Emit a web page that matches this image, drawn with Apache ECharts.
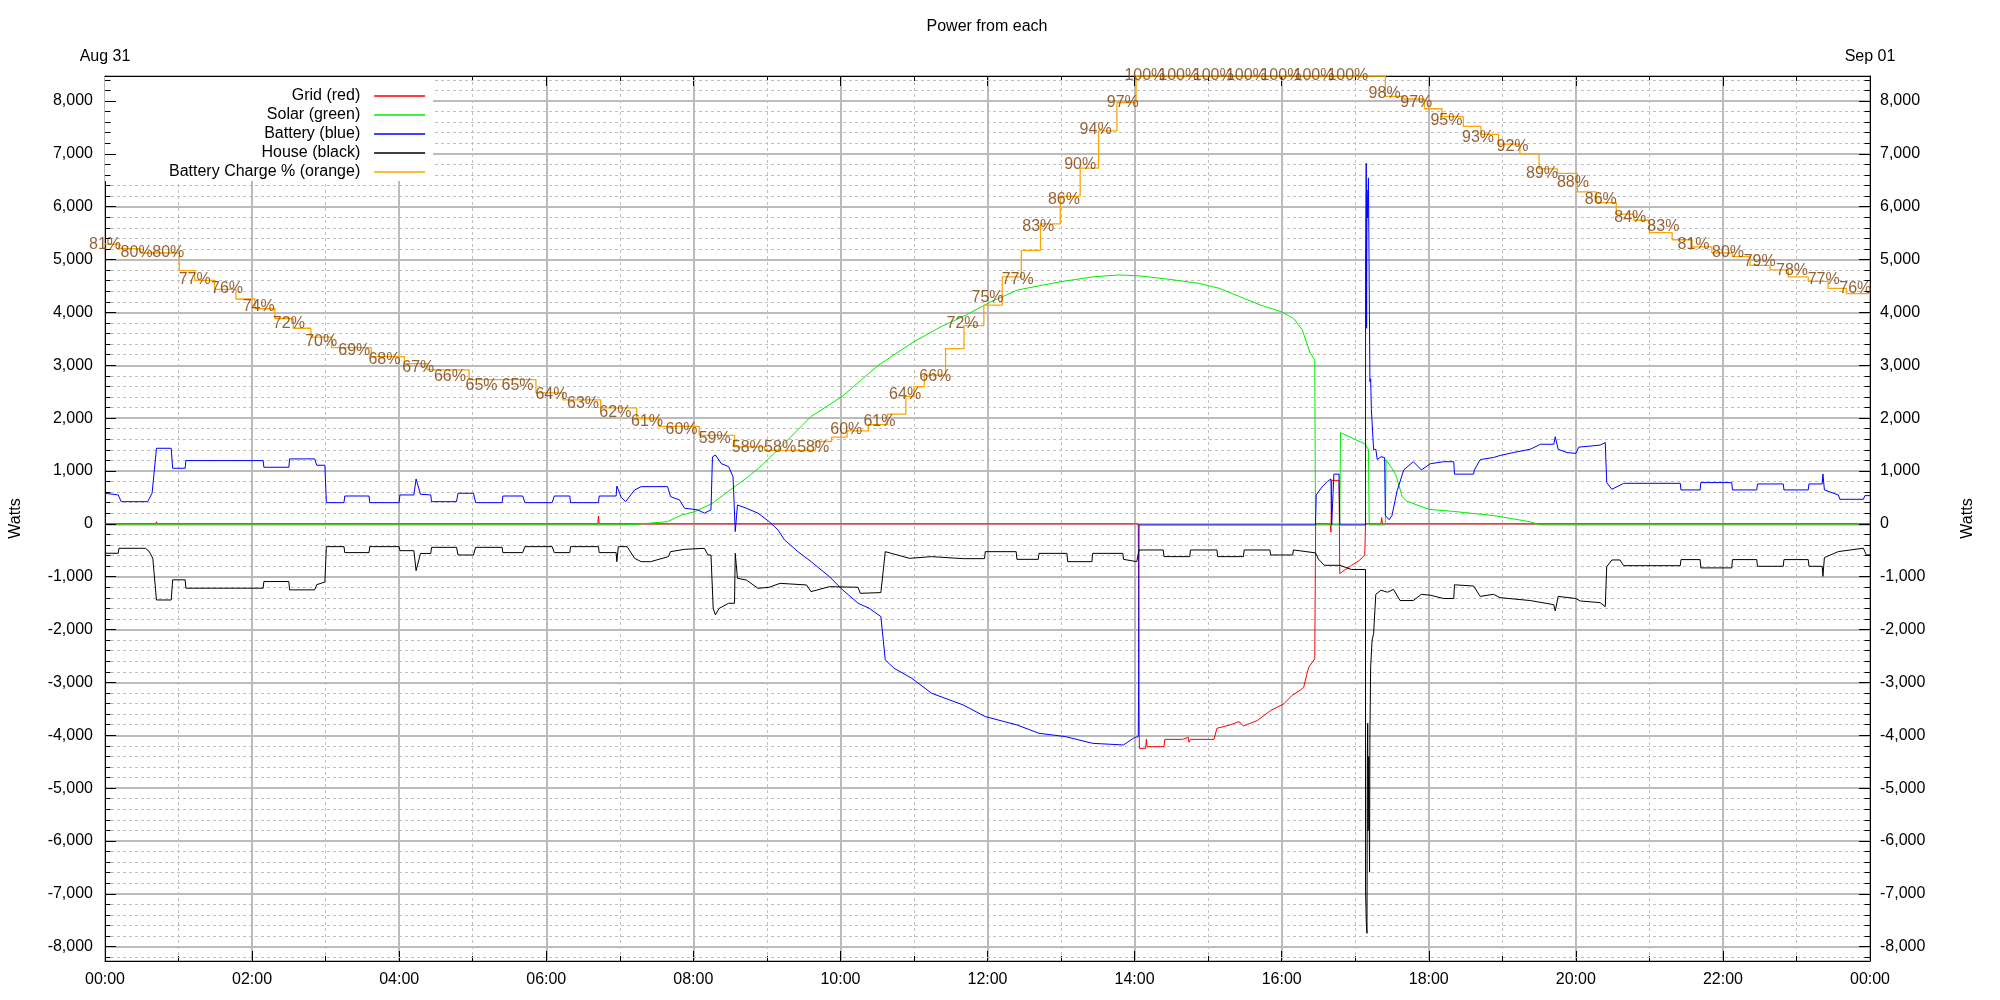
<!DOCTYPE html>
<html><head><meta charset="utf-8">
<script src="https://cdn.jsdelivr.net/npm/echarts@6/dist/echarts.min.js"></script>
<style>html,body{margin:0;padding:0;background:#fff}#chart{width:2000px;height:1000px}</style>
</head><body><div id="chart"></div>
<script>
// ---------- tick / axis labels ----------
const timeLabels = ['00:00','02:00','04:00','06:00','08:00','10:00','12:00','14:00','16:00','18:00','20:00','22:00','00:00'];
const dateLabels = ['Aug 31', 'Sep 01'];
const seriesNames = ['Grid (red)', 'Solar (green)', 'Battery (blue)', 'House (black)', 'Battery Charge % (orange)'];
const titleText = 'Power from each';
const yName = 'Watts';

// ---------- data: [hour of day, watts] ----------
const gridW = [[0,0],[0.69,0],[0.7,40],[0.71,0],[6.7,0],[6.71,150],[6.72,0],[14.05,0],[14.055,-1040],[14.06,-3105],[14.065,-4246],[14.15,-4246],[14.16,-4071],[14.17,-4215],[14.4,-4215],[14.41,-4077],[14.65,-4077],[14.66,-4040],[14.73,-4040],[14.74,-4133],[14.76,-4077],[15.08,-4077],[15.12,-3867],[15.3,-3804],[15.42,-3741],[15.48,-3823],[15.67,-3720],[15.85,-3530],[16.03,-3405],[16.14,-3247],[16.25,-3150],[16.3,-3090],[16.35,-2800],[16.37,-2710],[16.45,-2553],[16.46,-2553],[16.462,0],[16.66,0],[16.67,-157],[16.68,823],[16.78,823],[16.79,-941],[16.85,-880],[16.95,-784],[17.05,-700],[17.13,-588],[17.14,0],[17.35,0],[17.36,118],[17.37,0],[24,0]];

const solarW = [[0,-20],[7.05,-20],[7.3,0],[7.65,42],[7.84,168],[8.02,231],[8.26,389],[8.5,641],[8.75,894],[8.94,1116],[9.24,1526],[9.6,2031],[10.02,2407],[10.52,3006],[11.0,3447],[11.37,3731],[11.71,3952],[12.05,4204],[12.41,4425],[13.0,4583],[13.46,4677],[13.79,4709],[14.08,4690],[14.47,4627],[14.87,4551],[15.15,4457],[15.43,4299],[15.71,4141],[15.99,4015],[16.16,3889],[16.28,3668],[16.39,3227],[16.45,3101],[16.46,-20],[16.79,-20],[16.8,1725],[17.14,1506],[17.18,1400],[17.19,-20],[17.41,-20],[17.42,1216],[17.55,941],[17.64,510],[17.7,431],[18.0,275],[18.34,235],[18.88,157],[19.38,39],[19.52,-20],[24,-20]];

const batteryW = [[0,579],[0.18,547],[0.22,420],[0.58,420],[0.64,579],[0.7,1430],[0.9,1430],[0.92,1052],[1.09,1052],[1.1,1197],[2.15,1197],[2.16,1071],[2.5,1071],[2.51,1229],[2.85,1229],[2.88,1109],[2.99,1109],[3.01,401],[3.25,401],[3.26,527],[3.59,527],[3.6,401],[4.0,401],[4.01,547],[4.2,547],[4.23,850],[4.29,560],[4.43,547],[4.44,420],[4.78,420],[4.8,579],[5.01,579],[5.04,401],[5.4,401],[5.41,527],[5.68,527],[5.71,401],[6.08,401],[6.11,527],[6.32,527],[6.33,401],[6.71,401],[6.72,527],[6.95,527],[6.96,716],[7.02,500],[7.08,420],[7.2,641],[7.29,704],[7.65,704],[7.69,515],[7.81,454],[7.88,296],[8.06,265],[8.15,202],[8.24,265],[8.26,1266],[8.3,1303],[8.38,1141],[8.48,1082],[8.54,893],[8.57,-146],[8.6,357],[8.72,296],[8.88,202],[9.03,44],[9.15,-114],[9.24,-303],[9.42,-524],[9.6,-713],[9.85,-997],[10.03,-1249],[10.24,-1501],[10.39,-1596],[10.55,-1754],[10.61,-2574],[10.73,-2732],[10.97,-2921],[11.24,-3205],[11.67,-3426],[11.97,-3646],[12.4,-3804],[12.7,-3962],[13.06,-4025],[13.43,-4152],[13.85,-4183],[14.0,-4040],[14.05,-4026],[14.055,-3105],[14.06,-20],[16.46,-20],[16.47,549],[16.55,700],[16.62,800],[16.67,850],[16.68,-20],[16.7,-20],[16.71,941],[16.78,941],[16.79,-20],[17.14,-20],[17.141,5000],[17.15,6822],[17.155,3700],[17.16,6318],[17.17,5788],[17.18,6545],[17.19,4615],[17.2,2691],[17.21,2745],[17.22,2161],[17.25,1404],[17.28,1412],[17.3,1216],[17.35,1270],[17.4,1255],[17.41,157],[17.46,78],[17.5,157],[17.57,627],[17.66,1020],[17.79,1176],[17.9,1020],[18.02,1137],[18.2,1176],[18.34,1176],[18.35,941],[18.61,941],[18.62,1020],[18.7,1216],[18.88,1255],[18.97,1294],[19.15,1349],[19.38,1412],[19.52,1506],[19.7,1506],[19.72,1647],[19.76,1412],[19.88,1349],[20.0,1333],[20.04,1451],[20.33,1490],[20.4,1538],[20.42,781],[20.49,654],[20.6,730],[20.65,767],[21.42,767],[21.43,642],[21.69,642],[21.7,781],[22.12,781],[22.13,642],[22.46,642],[22.47,755],[22.82,755],[22.83,642],[23.16,642],[23.17,755],[23.35,755],[23.36,944],[23.38,642],[23.57,547],[23.59,465],[23.91,465],[23.93,534],[24,534]];

const houseW = [[0,-556],[0.18,-556],[0.19,-462],[0.55,-462],[0.6,-520],[0.65,-651],[0.7,-1440],[0.9,-1440],[0.92,-1059],[1.09,-1059],[1.1,-1217],[2.15,-1217],[2.16,-1091],[2.5,-1091],[2.51,-1249],[2.85,-1249],[2.88,-1150],[2.99,-1100],[3.01,-431],[3.25,-431],[3.26,-544],[3.59,-544],[3.6,-431],[4.0,-431],[4.01,-507],[4.2,-507],[4.23,-885],[4.29,-560],[4.43,-560],[4.44,-444],[4.78,-444],[4.8,-589],[5.01,-589],[5.04,-444],[5.4,-444],[5.41,-544],[5.68,-544],[5.71,-431],[6.08,-431],[6.11,-544],[6.32,-544],[6.33,-431],[6.71,-431],[6.72,-544],[6.95,-544],[6.96,-715],[6.98,-431],[7.1,-431],[7.2,-651],[7.29,-715],[7.42,-715],[7.66,-620],[7.69,-526],[7.88,-482],[8.15,-463],[8.2,-589],[8.24,-589],[8.27,-1596],[8.3,-1722],[8.35,-1600],[8.48,-1502],[8.56,-1502],[8.57,-558],[8.6,-1030],[8.72,-1062],[8.88,-1219],[9.03,-1200],[9.18,-1125],[9.54,-1156],[9.6,-1282],[9.85,-1188],[10.24,-1200],[10.27,-1314],[10.55,-1300],[10.61,-526],[10.94,-652],[11.24,-620],[11.67,-658],[11.96,-658],[11.97,-526],[12.39,-526],[12.4,-671],[12.69,-671],[12.7,-558],[13.08,-558],[13.09,-715],[13.42,-715],[13.43,-558],[13.84,-558],[13.85,-671],[14.03,-715],[14.06,-494],[14.39,-494],[14.4,-620],[14.75,-620],[14.76,-494],[15.12,-494],[15.13,-620],[15.48,-620],[15.49,-494],[15.84,-494],[15.85,-589],[16.15,-589],[16.16,-494],[16.25,-510],[16.46,-549],[16.5,-667],[16.58,-784],[16.79,-784],[16.95,-863],[17.14,-863],[17.141,-6925],[17.15,-7526],[17.16,-7746],[17.165,-4500],[17.17,-3773],[17.175,-5805],[17.185,-4400],[17.195,-6590],[17.2,-4000],[17.21,-2702],[17.23,-2197],[17.25,-2078],[17.28,-1333],[17.35,-1255],[17.44,-1294],[17.52,-1239],[17.61,-1451],[17.79,-1451],[17.9,-1333],[18.02,-1349],[18.2,-1412],[18.34,-1412],[18.35,-1153],[18.61,-1176],[18.7,-1372],[18.88,-1333],[18.97,-1396],[19.38,-1451],[19.7,-1529],[19.72,-1647],[19.76,-1372],[20.0,-1412],[20.06,-1459],[20.33,-1490],[20.4,-1566],[20.42,-809],[20.49,-683],[20.6,-683],[20.65,-791],[21.42,-791],[21.43,-676],[21.69,-676],[21.7,-833],[22.12,-833],[22.13,-676],[22.46,-676],[22.47,-803],[22.82,-803],[22.83,-676],[23.16,-676],[23.17,-803],[23.35,-803],[23.36,-993],[23.38,-638],[23.57,-524],[23.91,-461],[23.95,-587],[24,-587]];

// battery state of charge, percent (step line)
const chargePct = [[0,81],[0.19,80.5],[0.48,80],[1.01,78],[1.22,76.9],[1.49,75.9],[1.78,74.8],[2.04,73.7],[2.31,72.6],[2.56,71.5],[2.8,70.5],[3.08,69.3],[3.62,68.3],[4.07,67.5],[4.38,66.8],[4.95,65.7],[5.86,64.2],[6.23,63.4],[6.74,62.5],[7.23,61.3],[7.53,60.4],[8.08,59.4],[8.56,58.1],[8.97,57.7],[9.66,58.7],[9.88,59.2],[10.09,59.9],[10.38,60.6],[10.64,61.8],[10.89,63.8],[11.0,64.9],[11.14,66.2],[11.43,69.2],[11.68,71.8],[11.95,74.1],[12.2,77.3],[12.46,80.3],[12.72,83.3],[12.99,86.4],[13.26,89.6],[13.51,93.8],[13.76,97],[14.02,100],[17.41,97.7],[17.65,97.4],[17.94,96.3],[18.18,95.4],[18.47,94.3],[18.71,93.4],[18.95,92.3],[19.24,91.2],[19.5,89.5],[19.75,89.0],[20.02,86.9],[20.28,85.7],[20.55,84.4],[20.79,83.7],[21.0,82.3],[21.31,81.5],[21.58,80.7],[21.85,80.0],[22.13,79.6],[22.37,78.6],[22.64,78.1],[22.89,77.3],[23.16,76.8],[23.43,76.0],[23.68,75.4],[24,75.4]];

// labelled charge readings
const chargeLabels = [[0,81],[0.43,80],[0.86,80],[1.22,77],[1.66,76],[2.09,74],[2.5,72],[2.94,70],[3.39,69],[3.8,68],[4.26,67],[4.69,66],[5.12,65],[5.61,65],[6.07,64],[6.5,63],[6.94,62],[7.37,61],[7.84,60],[8.29,59],[8.74,58],[9.18,58],[9.63,58],[10.08,60],[10.53,61],[10.88,64],[11.29,66],[11.66,72],[12.0,75],[12.41,77],[12.69,83],[13.04,86],[13.26,90],[13.47,94],[13.84,97],[14.14,100],[14.6,100],[15.07,100],[15.52,100],[15.99,100],[16.44,100],[16.9,100],[17.4,98],[17.83,97],[18.24,95],[18.67,93],[19.14,92],[19.54,89],[19.96,88],[20.34,86],[20.74,84],[21.19,83],[21.6,81],[22.07,80],[22.5,79],[22.94,78],[23.37,77],[23.8,76]];

// ---------- styling ----------
const FONT = "'Liberation Sans', Arial, Helvetica, sans-serif";
const MAJOR = '#bbbbbb';
const MINOR = '#c0c0c0';
const Y_MIN = -8270, Y_MAX = 8473;
const MAJOR_STEP = 1000, MINOR_STEP = 200;
const minorY = [], majorY = [];
for (let v = Math.ceil(Y_MIN / MINOR_STEP) * MINOR_STEP; v <= Y_MAX; v += MINOR_STEP) {
  if (v % MAJOR_STEP !== 0) minorY.push(v); else majorY.push(v);
}
const TICK_MINOR_H = 0.075; // ~5.5px in hours
const TICK_MAJOR_H = 0.15;  // ~11px in hours

function yAxisCfg(position, nameGap, margin) {
  return {
    type: 'value', position, min: Y_MIN, max: Y_MAX, splitNumber: 16,
    name: yName, nameLocation: 'middle', nameRotate: 90, nameGap,
    nameTextStyle: { fontFamily: FONT, fontSize: 16, color: '#000' },
    axisLine: { show: true, onZero: false, lineStyle: { color: '#000', width: 1 } },
    axisTick: { show: false },
    axisLabel: { show: true, margin, fontFamily: FONT, fontSize: 16, color: '#000',
      showMinLabel: false, showMaxLabel: false,
      formatter: v => Math.round(v).toLocaleString('en-US') },
    splitLine: { show: position === 'left', lineStyle: { color: MAJOR, width: 2 } },
    minorTick: { show: false }, minorSplitLine: { show: false }
  };
}

function xAxisCfg(position, formatter) {
  return {
    type: 'value', position, min: 0, max: 24, interval: 2,
    axisLine: { show: true, onZero: false, lineStyle: { color: '#000', width: 1 } },
    axisTick: { show: true, inside: true, length: 10, lineStyle: { color: '#000', width: 1 } },
    minorTick: { show: true, splitNumber: 2, length: 5, lineStyle: { color: '#000', width: 1 } },
    axisLabel: { show: true, margin: 11, fontFamily: FONT, fontSize: 16, color: '#000',
      showMinLabel: true, showMaxLabel: true, hideOverlap: false, formatter },
    splitLine: { show: position === 'bottom', lineStyle: { color: MAJOR, width: 2 } },
    minorSplitLine: { show: position === 'bottom', lineStyle: { color: MINOR, width: 1, type: [3, 3] } }
  };
}

const lineSeries = (name, data, color, extra) => Object.assign({
  name, type: 'line', data, symbol: 'none', showSymbol: false,
  lineStyle: { color, width: 1 }, itemStyle: { color },
  emphasis: { disabled: true }, silent: true, z: 3
}, extra || {});

function tickPairs(values, len) {
  return values.flatMap(v => [
    [{ coord: [0, v] }, { coord: [len, v] }],
    [{ coord: [24 - len, v] }, { coord: [24, v] }]
  ]);
}

const option = {
  animation: false,
  backgroundColor: '#fff',
  textStyle: { fontFamily: FONT },
  title: { text: titleText, left: 982, top: 14, textAlign: 'center',
    textStyle: { fontFamily: FONT, fontSize: 16, fontWeight: 'normal', color: '#000' } },
  legend: {
    data: seriesNames, orient: 'vertical', align: 'right',
    left: 105, top: 77, padding: [11, 8, 1, 64],
    icon: 'rect', itemWidth: 51, itemHeight: 1.5, itemGap: 3,
    backgroundColor: '#fff', selectedMode: false,
    formatter: n => n + '  ',
    textStyle: { fontFamily: FONT, fontSize: 16, color: '#000' }
  },
  grid: { left: 104, right: 130, top: 76, bottom: 39, containLabel: false },
  xAxis: [
    xAxisCfg('bottom', v => timeLabels[Math.round(v / 2)]),
    xAxisCfg('top', v => v === 0 ? dateLabels[0] : (v === 24 ? dateLabels[1] : ''))
  ],
  yAxis: [
    yAxisCfg('left', 81, 12),
    yAxisCfg('right', 90, 10),
    { type: 'value', show: false, min: 0, max: 100 }
  ],
  series: [
    { type: 'line', data: [], silent: true, z: 1,
      markLine: { silent: true, symbol: ['none', 'none'], z: 1, animation: false,
        label: { show: false }, emphasis: { disabled: true },
        lineStyle: { color: MINOR, width: 1, type: [3, 3] },
        data: minorY.map(v => ({ yAxis: v })) } },
    { type: 'line', data: [], silent: true, z: 6,
      markLine: { silent: true, symbol: ['none', 'none'], z: 6, animation: false,
        label: { show: false }, emphasis: { disabled: true },
        lineStyle: { color: '#000', width: 1, type: 'solid' },
        data: tickPairs(minorY, TICK_MINOR_H).concat(tickPairs(majorY, TICK_MAJOR_H)) } },
    lineSeries(seriesNames[0], gridW, '#ff0000'),
    lineSeries(seriesNames[1], solarW, '#00ee00'),
    lineSeries(seriesNames[2], batteryW, '#0000ff'),
    lineSeries(seriesNames[3], houseW, '#000000'),
    lineSeries(seriesNames[4], chargePct, '#ffa500', { yAxisIndex: 2, step: 'end', lineStyle: { color: '#ffa500', width: 1.3 } }),
    { type: 'scatter', yAxisIndex: 2, data: chargeLabels, symbolSize: 1, clip: false, silent: true, z: 5,
      itemStyle: { color: 'transparent' },
      label: { show: true, position: 'inside', formatter: p => p.value[1] + '%',
        color: '#7a3a00', textBorderWidth: 0, fontFamily: FONT, fontSize: 16 } }
  ]
};

const chart = echarts.init(document.getElementById('chart'), null, { renderer: 'canvas' });
chart.setOption(option);
</script>
</body></html>
